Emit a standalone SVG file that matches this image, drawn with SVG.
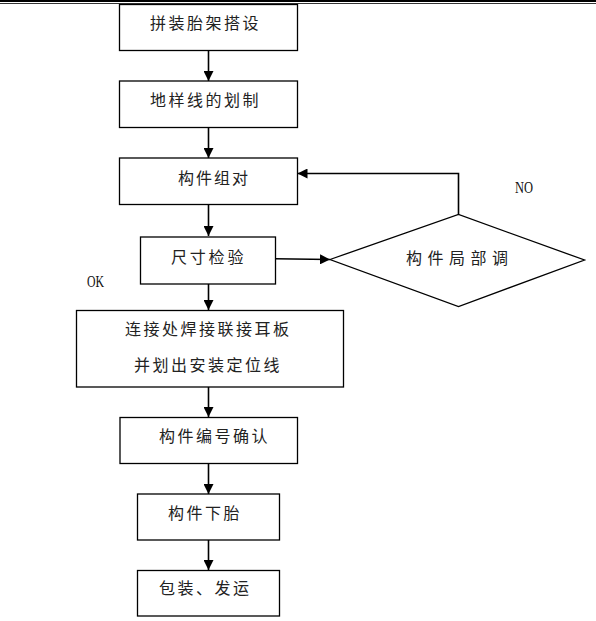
<svg xmlns="http://www.w3.org/2000/svg" width="596" height="621" viewBox="0 0 596 621">
<defs>
<marker id="ah" viewBox="0 0 10 10" refX="10" refY="5" markerWidth="10" markerHeight="10" markerUnits="userSpaceOnUse" orient="auto">
<path d="M0,0 L10,5 L0,10 z" fill="#000"/>
</marker>
<style>
.box{fill:#fff;stroke:#000;stroke-width:1.3}
.t{font-family:"Noto Sans CJK SC","Noto Sans",sans-serif;font-size:16px;fill:#222;letter-spacing:2.5px}
.c{stroke:#000;stroke-width:1.6;fill:none}
.lat{font-family:"Liberation Serif",serif;font-size:16px;fill:#111}
</style>
</defs>
<rect width="596" height="621" fill="#fff"/>
<line x1="0" y1="1" x2="596" y2="1" stroke="#000" stroke-width="2"/>
<line x1="0" y1="3.5" x2="596" y2="3.5" stroke="#000" stroke-width="0.8"/>
<g id="connectors">
<line class="c" x1="208.5" y1="50" x2="208.5" y2="81" marker-end="url(#ah)"/>
<line class="c" x1="208.5" y1="127" x2="208.5" y2="158" marker-end="url(#ah)"/>
<line class="c" x1="208.5" y1="204" x2="208.5" y2="236" marker-end="url(#ah)"/>
<line class="c" x1="275" y1="258.8" x2="330" y2="259.5" marker-end="url(#ah)"/>
<polyline class="c" points="458.5,214.5 458.5,173.5 297.5,173.5" marker-end="url(#ah)"/>
<line class="c" x1="208.5" y1="284" x2="208.5" y2="310" marker-end="url(#ah)"/>
<line class="c" x1="208.5" y1="387" x2="208.5" y2="417" marker-end="url(#ah)"/>
<line class="c" x1="208.5" y1="463" x2="208.5" y2="494" marker-end="url(#ah)"/>
<line class="c" x1="208.5" y1="540" x2="208.5" y2="570" marker-end="url(#ah)"/>
</g>
<g id="n1"><rect class="box" x="119.5" y="4.5" width="178" height="46"/><text class="t" x="150" y="29">拼装胎架搭设</text></g>
<g id="n2"><rect class="box" x="119.5" y="81" width="178" height="46.5"/><text class="t" x="150" y="106">地样线的划制</text></g>
<g id="n3"><rect class="box" x="119.5" y="158" width="178" height="46.5"/><text class="t" x="178" y="183.5" style="letter-spacing:2px">构件组对</text></g>
<g id="n4"><rect class="box" x="140.5" y="237" width="135" height="47"/><text class="t" x="171" y="262.5" style="letter-spacing:2.8px">尺寸检验</text></g>
<g id="n5"><polygon class="box" points="330,259.5 458.5,214.5 584.5,260 458.5,306.5"/><text class="t" x="406" y="264" style="letter-spacing:5.5px">构件局部调</text></g>
<g id="n6"><rect class="box" x="76.5" y="310.5" width="267" height="76.5"/><text class="t" x="125" y="335">连接处焊接联接耳板</text><text class="t" x="134" y="371">并划出安装定位线</text></g>
<g id="n7"><rect class="box" x="120" y="417.5" width="177.5" height="46"/><text class="t" x="159" y="442">构件编号确认</text></g>
<g id="n8"><rect class="box" x="137.5" y="494" width="142" height="46"/><text class="t" x="168" y="519">构件下胎</text></g>
<g id="n9"><rect class="box" x="137.5" y="570.5" width="142" height="45.5"/><text class="t" x="159" y="594">包装、发运</text></g>
<text class="lat" x="515" y="193" textLength="18" lengthAdjust="spacingAndGlyphs">NO</text>
<text class="lat" x="87" y="287" textLength="17" lengthAdjust="spacingAndGlyphs">OK</text>
</svg>
